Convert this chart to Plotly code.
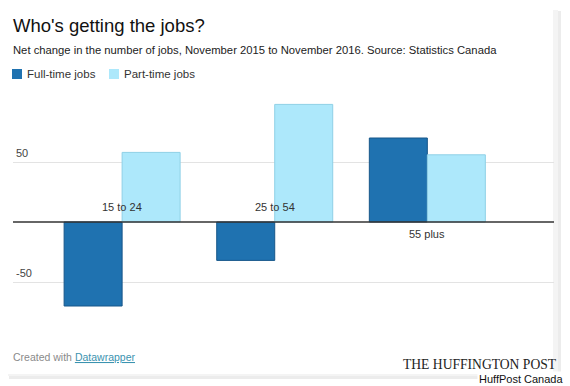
import plotly.graph_objects as go

# ---- data ----
categories = ["15 to 24", "25 to 54", "55 plus"]
full_time = [-70, -32, 70]
part_time = [58, 98, 56]
series_names = ["Full-time jobs", "Part-time jobs"]
y_ticks = [50, -50]
y_tick_labels = ["50", "-50"]

title = "Who's getting the jobs?"
subtitle = "Net change in the number of jobs, November 2015 to November 2016. Source: Statistics Canada"

FULL_COLOR = "#1f72b0"
PART_COLOR = "#ade8fb"

W, H = 570, 386
ML, MR, MT, MB = 13, 16, 90, 66
PW, PH = W - ML - MR, H - MT - MB


def px(x):
    return (x - ML) / PW


def py(y):
    return 1 - (y - MT) / PH


fig = go.Figure()
fig.add_trace(go.Bar(
    x=categories, y=full_time, name=series_names[0],
    marker=dict(color=FULL_COLOR, line=dict(color="#17578a", width=1)),
    showlegend=False, hoverinfo="x+y+name",
))
fig.add_trace(go.Bar(
    x=categories, y=part_time, name=series_names[1],
    marker=dict(color=PART_COLOR, line=dict(color="#8fd0e6", width=1)),
    showlegend=False, hoverinfo="x+y+name",
))

annotations = []
# title & subtitle
annotations.append(dict(xref="paper", yref="paper", x=px(11), y=py(25), text=title,
                        showarrow=False, xanchor="left", yanchor="middle",
                        font=dict(family="Liberation Sans, Arial", size=18.5, color="#111")))
annotations.append(dict(xref="paper", yref="paper", x=px(11), y=py(50), text=subtitle,
                        showarrow=False, xanchor="left", yanchor="middle",
                        font=dict(family="Liberation Sans, Arial", size=11.25, color="#222")))
# legend
legend_x = [12, 109]
for name, col, lx in zip(series_names, [FULL_COLOR, PART_COLOR], legend_x):
    annotations.append(dict(xref="paper", yref="paper", x=px(lx + 13), y=py(74), text=name,
                            showarrow=False, xanchor="left", yanchor="middle",
                            font=dict(family="Liberation Sans, Arial", size=11.5, color="#333")))
# y tick labels above gridlines
for v, lab in zip(y_ticks, y_tick_labels):
    annotations.append(dict(xref="paper", yref="y", x=px(14), y=v, yshift=9, text=lab,
                            showarrow=False, xanchor="left", yanchor="middle",
                            font=dict(family="Liberation Sans, Arial", size=11, color="#444")))
# category labels
for c, f, p in zip(categories, full_time, part_time):
    above = min(f, p) < 0
    annotations.append(dict(xref="x", yref="y", x=c, y=0, yshift=15 if above else -12,
                            text=c, showarrow=False, xanchor="center", yanchor="middle",
                            font=dict(family="Liberation Sans, Arial", size=11, color="#333")))
# footer
annotations.append(dict(xref="paper", yref="paper", x=px(11), y=py(357),
                        text="Created with <span style='color:#3b93b0'><u>Datawrapper</u></span>",
                        showarrow=False, xanchor="left", yanchor="middle",
                        font=dict(family="Liberation Sans, Arial", size=10.5, color="#8a8a8a")))
annotations.append(dict(xref="paper", yref="paper", x=px(559), y=py(364),
                        text="THE HUFFINGTON POST", showarrow=False,
                        xanchor="right", yanchor="middle",
                        font=dict(family="Liberation Serif, Times New Roman", size=13.6, color="#222")))
annotations.append(dict(xref="paper", yref="paper", x=px(565), y=py(379),
                        text="HuffPost Canada", showarrow=False,
                        xanchor="right", yanchor="middle", bgcolor="white",
                        font=dict(family="Liberation Sans, Arial", size=11, color="#111")))

shapes = []
# card shadow and card
shapes.append(dict(type="rect", xref="paper", yref="paper", layer="below",
                   x0=px(9), x1=px(561), y0=py(11), y1=py(379),
                   fillcolor="#ececec", line=dict(width=0)))
shapes.append(dict(type="rect", xref="paper", yref="paper", layer="below",
                   x0=px(8), x1=px(558), y0=py(10), y1=py(376),
                   fillcolor="#f4f4f4", line=dict(width=0)))
shapes.append(dict(type="rect", xref="paper", yref="paper", layer="below",
                   x0=px(7), x1=px(553), y0=py(9), y1=py(374),
                   fillcolor="white", line=dict(width=0)))
# legend squares
for col, lx in zip([FULL_COLOR, PART_COLOR], legend_x):
    shapes.append(dict(type="rect", xref="paper", yref="paper",
                       x0=px(lx), x1=px(lx + 10), y0=py(69), y1=py(79),
                       fillcolor=col, line=dict(width=0)))
# zero line
shapes.append(dict(type="line", xref="paper", yref="y", x0=0, x1=1, y0=0, y1=0,
                   line=dict(color="#333", width=1.3)))

fig.update_layout(
    width=W, height=H,
    margin=dict(l=ML, r=MR, t=MT, b=MB),
    paper_bgcolor="white", plot_bgcolor="rgba(0,0,0,0)",
    barmode="group", bargap=0.24, bargroupgap=0,
    annotations=annotations, shapes=shapes,
    xaxis=dict(type="category", range=[-0.715, 2.83], showticklabels=False,
               showgrid=False, zeroline=False, fixedrange=True),
    yaxis=dict(range=[-81.67, 110], tickvals=y_ticks, showticklabels=False,
               showgrid=True, gridcolor="#e3e3e3", gridwidth=1, zeroline=False,
               fixedrange=True),
    showlegend=False,
)

fig.write_html(
    "out.html",
    config={"displayModeBar": False},
    post_script="document.body.style.margin='0';document.body.style.overflow='hidden';",
)
